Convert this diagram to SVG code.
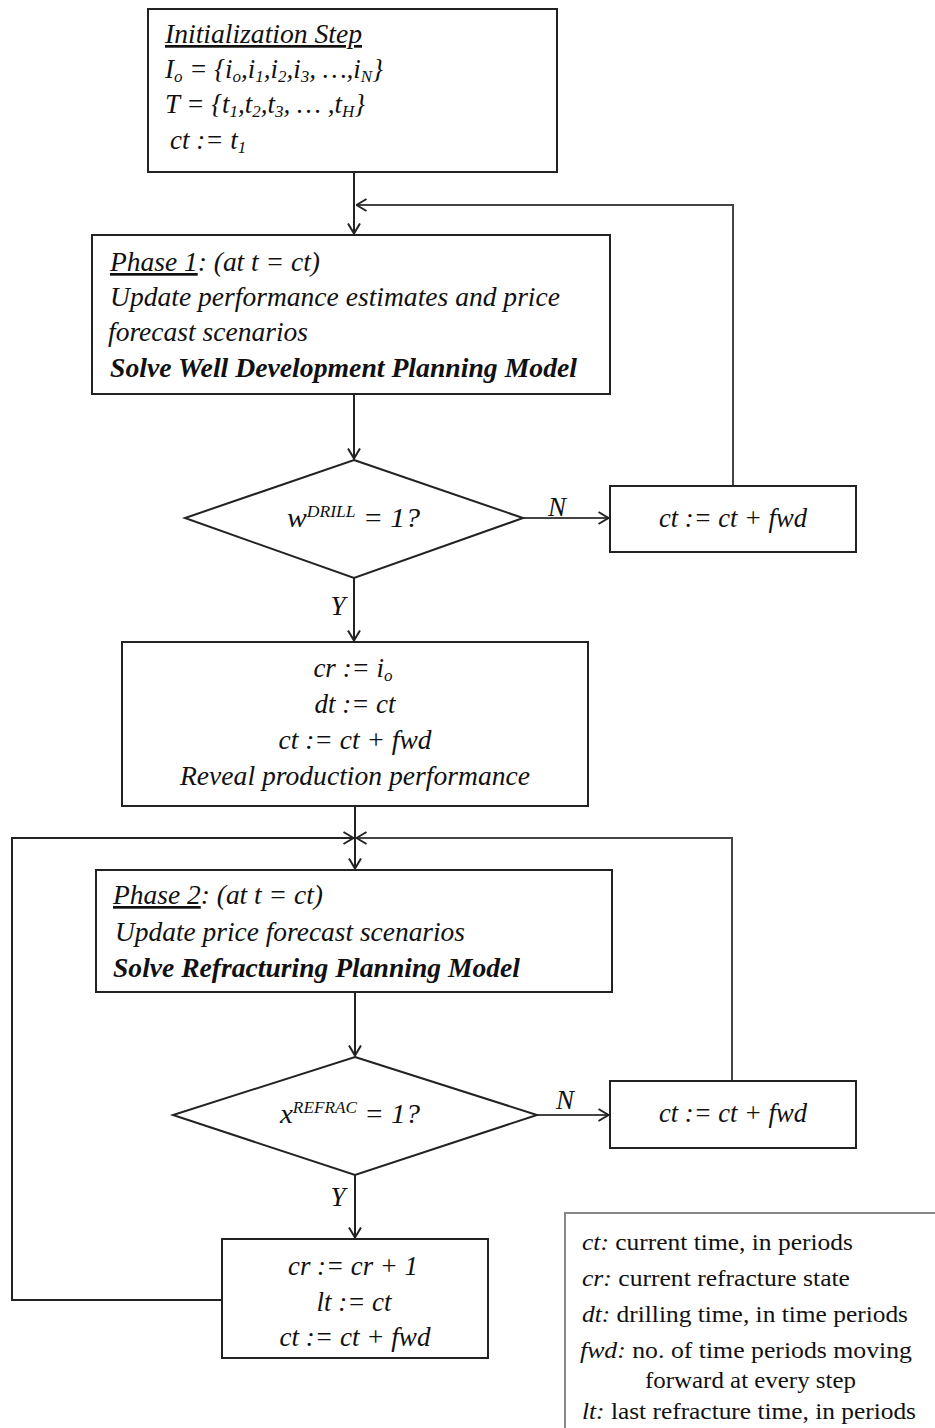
<svg xmlns="http://www.w3.org/2000/svg" width="935" height="1428" viewBox="0 0 935 1428">
<style>
.box{fill:#fff;stroke:#222;stroke-width:2}
.t{font-family:"Liberation Serif","Times New Roman",serif;font-size:27px;font-style:italic;fill:#111}
.b{font-weight:bold}
.c{text-anchor:middle}
.sub{font-size:17px}
.sup{font-size:16px}
.lg{font-family:"Liberation Serif","Times New Roman",serif;font-size:23px;fill:#111}
.lgi{font-style:italic}
.con{fill:none;stroke:#222;stroke-width:2}
.fb{fill:none;stroke:#444;stroke-width:2}
</style>
<defs>
<marker id="arr" viewBox="0 0 12 14" refX="11.5" refY="7" markerWidth="12" markerHeight="14" orient="auto" markerUnits="userSpaceOnUse">
<path d="M1,1 L11,7 L1,13" fill="none" stroke="#222" stroke-width="2"/>
</marker>
</defs>
<rect width="935" height="1428" fill="#fff"/>

<g id="connectors">
<path class="con" d="M354,172 V234" marker-end="url(#arr)"/>
<path class="fb" d="M733,486 V205 H356" marker-end="url(#arr)"/>
<path class="con" d="M354,394 V459" marker-end="url(#arr)"/>
<path class="fb" d="M523,518 H609" marker-end="url(#arr)"/>
<path class="con" d="M354,578 V641" marker-end="url(#arr)"/>
<path class="con" d="M355,806 V869" marker-end="url(#arr)"/>
<path class="fb" d="M732,1081 V838 H356" marker-end="url(#arr)"/>
<path class="con" d="M222,1300 H12 V838 H354" marker-end="url(#arr)"/>
<path class="con" d="M355,992 V1056" marker-end="url(#arr)"/>
<path class="fb" d="M537,1115 H609" marker-end="url(#arr)"/>
<path class="con" d="M355,1175 V1238" marker-end="url(#arr)"/>
<text class="t" x="557" y="516" font-size="25" text-anchor="middle">N</text>
<text class="t" x="565" y="1109" font-size="25" text-anchor="middle">N</text>
<text class="t" x="338" y="615" font-size="25" text-anchor="middle">Y</text>
<text class="t" x="338" y="1206" font-size="25" text-anchor="middle">Y</text>
</g>

<g id="init">
<rect class="box" x="148" y="9" width="409" height="163"/>
<text class="t" x="165" y="43" textLength="197" lengthAdjust="spacingAndGlyphs" text-decoration="underline">Initialization Step</text>
<text class="t" x="165" y="78" textLength="218" lengthAdjust="spacingAndGlyphs">I<tspan class="sub" dy="4">o</tspan><tspan dy="-4"> = {i</tspan><tspan class="sub" dy="4">o</tspan><tspan dy="-4">,i</tspan><tspan class="sub" dy="4">1</tspan><tspan dy="-4">,i</tspan><tspan class="sub" dy="4">2</tspan><tspan dy="-4">,i</tspan><tspan class="sub" dy="4">3</tspan><tspan dy="-4">, …,i</tspan><tspan class="sub" dy="4">N</tspan><tspan dy="-4">}</tspan></text>
<text class="t" x="165" y="113" textLength="200" lengthAdjust="spacingAndGlyphs">T = {t<tspan class="sub" dy="4">1</tspan><tspan dy="-4">,t</tspan><tspan class="sub" dy="4">2</tspan><tspan dy="-4">,t</tspan><tspan class="sub" dy="4">3</tspan><tspan dy="-4">, … ,t</tspan><tspan class="sub" dy="4">H</tspan><tspan dy="-4">}</tspan></text>
<text class="t" x="170" y="149">ct := t<tspan class="sub" dy="4">1</tspan></text>
</g>

<g id="phase1">
<rect class="box" x="92" y="235" width="518" height="159"/>
<text class="t" x="110" y="271" textLength="210" lengthAdjust="spacingAndGlyphs"><tspan text-decoration="underline">Phase 1</tspan>: (at t = ct)</text>
<text class="t" x="110" y="306" textLength="450" lengthAdjust="spacingAndGlyphs">Update performance estimates and price</text>
<text class="t" x="108" y="341" textLength="200" lengthAdjust="spacingAndGlyphs">forecast scenarios</text>
<text class="t b" x="110" y="377" textLength="467" lengthAdjust="spacingAndGlyphs">Solve Well Development Planning Model</text>
</g>

<g id="decision1">
<polygon class="box" points="354,460 523,518 354,578 185,518"/>
<text class="t" x="287" y="527" textLength="133" lengthAdjust="spacingAndGlyphs">w<tspan class="sup" dy="-10">DRILL</tspan><tspan dy="10"> = 1?</tspan></text>
</g>

<g id="advance1">
<rect class="box" x="610" y="486" width="246" height="66"/>
<text class="t c" x="733" y="527" textLength="148" lengthAdjust="spacingAndGlyphs">ct := ct + fwd</text>
</g>

<g id="drill">
<rect class="box" x="122" y="642" width="466" height="164"/>
<text class="t c" x="353" y="677">cr := i<tspan class="sub" dy="4">o</tspan></text>
<text class="t c" x="355" y="713">dt := ct</text>
<text class="t c" x="355" y="749" textLength="153" lengthAdjust="spacingAndGlyphs">ct := ct + fwd</text>
<text class="t c" x="355" y="785" textLength="350" lengthAdjust="spacingAndGlyphs">Reveal production performance</text>
</g>

<g id="phase2">
<rect class="box" x="96" y="870" width="516" height="122"/>
<text class="t" x="113" y="904" textLength="210" lengthAdjust="spacingAndGlyphs"><tspan text-decoration="underline">Phase 2</tspan>: (at t = ct)</text>
<text class="t" x="115" y="941" textLength="350" lengthAdjust="spacingAndGlyphs">Update price forecast scenarios</text>
<text class="t b" x="113" y="977" textLength="407" lengthAdjust="spacingAndGlyphs">Solve Refracturing Planning Model</text>
</g>

<g id="decision2">
<polygon class="box" points="355,1057 537,1115 355,1175 173,1115"/>
<text class="t" x="280" y="1123" textLength="140" lengthAdjust="spacingAndGlyphs">x<tspan class="sup" dy="-10">REFRAC</tspan><tspan dy="10"> = 1?</tspan></text>
</g>

<g id="advance2">
<rect class="box" x="610" y="1081" width="246" height="67"/>
<text class="t c" x="733" y="1122" textLength="148" lengthAdjust="spacingAndGlyphs">ct := ct + fwd</text>
</g>

<g id="refrac">
<rect class="box" x="222" y="1239" width="266" height="119"/>
<text class="t c" x="353" y="1275" textLength="130" lengthAdjust="spacingAndGlyphs">cr := cr + 1</text>
<text class="t c" x="354" y="1311">lt := ct</text>
<text class="t c" x="355" y="1346" textLength="151" lengthAdjust="spacingAndGlyphs">ct := ct + fwd</text>
</g>

<g id="legend">
<rect x="565" y="1213" width="385" height="240" fill="#fff" stroke="#888" stroke-width="2"/>
<text class="lg" x="582" y="1250" textLength="271" lengthAdjust="spacingAndGlyphs"><tspan class="lgi">ct:</tspan> current time, in periods</text>
<text class="lg" x="582" y="1286" textLength="268" lengthAdjust="spacingAndGlyphs"><tspan class="lgi">cr:</tspan> current refracture state</text>
<text class="lg" x="582" y="1322" textLength="326" lengthAdjust="spacingAndGlyphs"><tspan class="lgi">dt:</tspan> drilling time, in time periods</text>
<text class="lg" x="580" y="1358" textLength="332" lengthAdjust="spacingAndGlyphs"><tspan class="lgi">fwd:</tspan> no. of time periods moving</text>
<text class="lg" x="645" y="1388" textLength="211" lengthAdjust="spacingAndGlyphs">forward at every step</text>
<text class="lg" x="582" y="1419" textLength="334" lengthAdjust="spacingAndGlyphs"><tspan class="lgi">lt:</tspan> last refracture time, in periods</text>
</g>
</svg>
